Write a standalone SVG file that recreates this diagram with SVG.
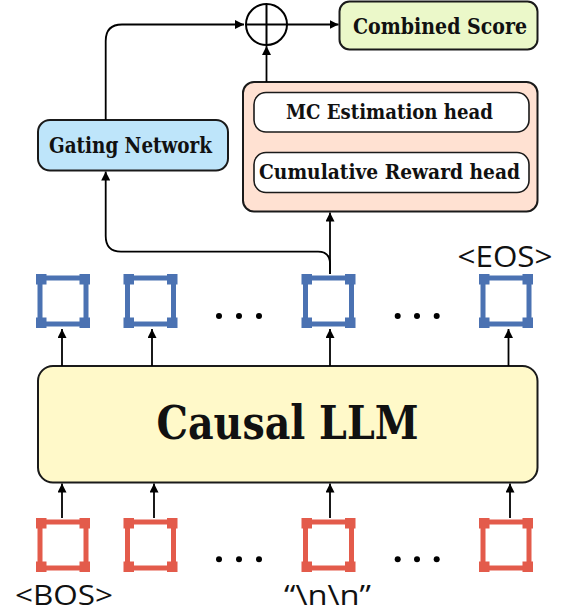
<svg xmlns="http://www.w3.org/2000/svg" width="562" height="614" viewBox="0 0 562 614">
<defs>
<marker id="ah" viewBox="0 0 10 10" refX="10" refY="5" markerWidth="9" markerHeight="9" markerUnits="userSpaceOnUse" orient="auto">
<path d="M0,0 L10,5 L0,10 z" fill="#000"/>
</marker>
<g id="bsq">
<rect x="-23" y="-23" width="46" height="46" fill="none" stroke="#4b72b2" stroke-width="5"/>
<rect x="-27" y="-27" width="10.5" height="10.5" fill="#4b72b2"/>
<rect x="16.5" y="-27" width="10.5" height="10.5" fill="#4b72b2"/>
<rect x="-27" y="16.5" width="10.5" height="10.5" fill="#4b72b2"/>
<rect x="16.5" y="16.5" width="10.5" height="10.5" fill="#4b72b2"/>
</g>
<g id="rsq">
<rect x="-23" y="-23" width="46" height="46" fill="none" stroke="#e35b4b" stroke-width="5"/>
<rect x="-27" y="-27" width="10.5" height="10.5" fill="#e35b4b"/>
<rect x="16.5" y="-27" width="10.5" height="10.5" fill="#e35b4b"/>
<rect x="-27" y="16.5" width="10.5" height="10.5" fill="#e35b4b"/>
<rect x="16.5" y="16.5" width="10.5" height="10.5" fill="#e35b4b"/>
</g>
</defs>
<style>
.box{stroke:#1a1a1a;stroke-width:2}
.lbl{font-family:"DejaVu Serif",serif;font-weight:bold;font-stretch:condensed;fill:#111;text-anchor:middle}
.tok{font-family:"Open Sans","Noto Sans",sans-serif;fill:#111;text-anchor:middle}
.conn{fill:none;stroke:#000;stroke-width:1.8}
</style>
<rect width="562" height="614" fill="#fff"/>

<g id="combined">
<rect class="box" x="339.5" y="1.5" width="198" height="48" rx="10" fill="#ebf8c9"/>
<text class="lbl" x="440" y="34" font-size="21.5" textLength="174" lengthAdjust="spacingAndGlyphs">Combined Score</text>
</g>

<g id="sum">
<circle cx="266.5" cy="24.5" r="20.5" fill="#fff" stroke="#000" stroke-width="2"/>
<path d="M246,24.5 H287 M266.5,4 V45" stroke="#000" stroke-width="2"/>
</g>

<g id="gating">
<rect class="box" x="38" y="120" width="190" height="50.5" rx="12" fill="#bee5fa"/>
<text class="lbl" x="130.5" y="152.5" font-size="21.5" textLength="163" lengthAdjust="spacingAndGlyphs">Gating Network</text>
</g>

<g id="heads">
<rect class="box" x="243" y="82" width="294.5" height="129.5" rx="11" fill="#ffe1d2"/>
<g id="mc">
<rect x="254" y="92.5" width="275" height="39.5" rx="12" fill="#fff" stroke="#1a1a1a" stroke-width="1.6"/>
<text class="lbl" x="389.5" y="119" font-size="21" textLength="207" lengthAdjust="spacingAndGlyphs">MC Estimation head</text>
</g>
<g id="cr">
<rect x="254" y="152.5" width="275" height="40" rx="12" fill="#fff" stroke="#1a1a1a" stroke-width="1.6"/>
<text class="lbl" x="389.5" y="179.3" font-size="21" textLength="261" lengthAdjust="spacingAndGlyphs">Cumulative Reward head</text>
</g>
</g>

<g id="llm">
<rect class="box" x="38" y="366" width="499.5" height="116.5" rx="15" fill="#fff9c9"/>
<text class="lbl" x="287.5" y="439.3" font-size="47" textLength="262" lengthAdjust="spacingAndGlyphs">Causal LLM</text>
</g>

<g id="out-tokens">
<use href="#bsq" x="63" y="301"/>
<use href="#bsq" x="150.5" y="301"/>
<use href="#bsq" x="328.5" y="301"/>
<use href="#bsq" x="506" y="301"/>
<circle cx="219" cy="316" r="3"/><circle cx="239" cy="316" r="3"/><circle cx="259" cy="316" r="3"/>
<circle cx="397.7" cy="316" r="3"/><circle cx="417" cy="316" r="3"/><circle cx="436.7" cy="316" r="3"/>
<text class="tok" x="505" y="266.5" font-size="29" textLength="95" lengthAdjust="spacingAndGlyphs">&lt;EOS&gt;</text>
</g>

<g id="in-tokens">
<use href="#rsq" x="63" y="545"/>
<use href="#rsq" x="150.5" y="545"/>
<use href="#rsq" x="328.5" y="545"/>
<use href="#rsq" x="506" y="545"/>
<circle cx="219" cy="559.3" r="3"/><circle cx="239" cy="559.3" r="3"/><circle cx="259" cy="559.3" r="3"/>
<circle cx="397.7" cy="559.3" r="3"/><circle cx="417" cy="559.3" r="3"/><circle cx="436.7" cy="559.3" r="3"/>
<text class="tok" x="64" y="604.5" font-size="28" textLength="98" lengthAdjust="spacingAndGlyphs">&lt;BOS&gt;</text>
<text class="tok" x="327.5" y="605" font-size="28" textLength="87" lengthAdjust="spacingAndGlyphs">“\n\n”</text>
</g>

<g id="connectors">
<path class="conn" d="M105.7,120 V41 Q105.7,24.5 122,24.5 H244" marker-end="url(#ah)"/>
<path class="conn" d="M266.5,82 V46" marker-end="url(#ah)"/>
<path class="conn" d="M287,24.5 H338.5" marker-end="url(#ah)"/>
<path class="conn" d="M330,274 V212.5" marker-end="url(#ah)"/>
<path class="conn" d="M330,274 V264 Q330,251.7 318,251.7 H121 Q105.7,251.7 105.7,236 V171.5" marker-end="url(#ah)"/>
<path class="conn" d="M62,366 V329" marker-end="url(#ah)"/>
<path class="conn" d="M152,366 V329" marker-end="url(#ah)"/>
<path class="conn" d="M330,366 V329" marker-end="url(#ah)"/>
<path class="conn" d="M508.5,366 V329" marker-end="url(#ah)"/>
<path class="conn" d="M62,518 V483.5" marker-end="url(#ah)"/>
<path class="conn" d="M154,518 V483.5" marker-end="url(#ah)"/>
<path class="conn" d="M330,518 V483.5" marker-end="url(#ah)"/>
<path class="conn" d="M510,518 V483.5" marker-end="url(#ah)"/>
</g>
</svg>
